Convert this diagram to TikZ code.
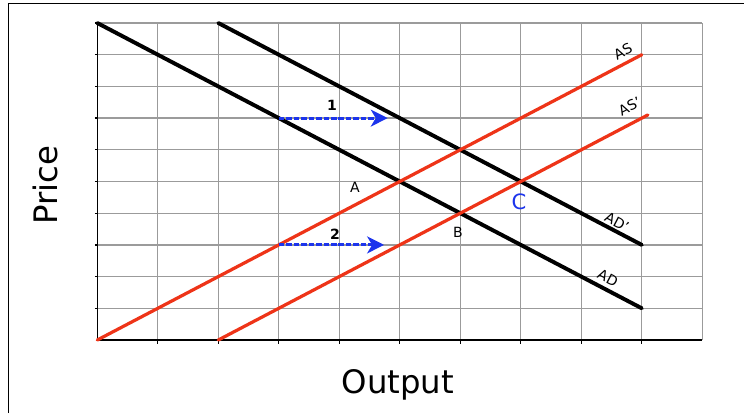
\documentclass[tikz,border=0pt]{standalone}
\usepackage{fontspec}
\setmainfont{DejaVu Sans}
\usetikzlibrary{positioning, arrows.meta}
\definecolor{asred}{RGB}{238,52,24}
\definecolor{shiftblue}{RGB}{28,52,236}
\definecolor{gridgray}{RGB}{155,155,155}

\begin{document}
\begin{tikzpicture}[
  x=1.5125cm,
  y=0.7925cm,
  demand/.style={
    draw,
    line width=2.8pt,
    line cap=round,
  },
  supply/.style={
    draw=asred,
    line width=2.3pt,
    line cap=round,
  },
  shiftarrow/.style={
    draw=shiftblue,
    line width=2.1pt,
    dash pattern=on 4pt off 1.3pt,
    -{Stealth[length=12pt, width=12pt, inset=3.5pt]},
  },
  curvelabel/.style={
    inner sep=0pt,
    font=\fontsize{10}{11}\selectfont,
  },
  pointlabel/.style={
    inner sep=0pt,
    font=\fontsize{10}{11}\selectfont,
  },
  axistitle/.style={
    inner sep=0pt,
    font=\fontsize{23}{26}\selectfont,
  },
]
\useasboundingbox (-2.4325cm,-1.825cm) rectangle (16.1675cm,8.5cm);

% frame
\draw[line width=0.7pt] (-2.2325cm,-1.825cm) -- (-2.2325cm,8.425cm) -- (16.1675cm,8.425cm);

% grid and axes
\draw[gridgray, line width=0.9pt, step=1] (0,0) grid (10,10);
\draw[line width=0.9pt] (0,10) -- (0,0) -- (10,0);
\foreach \r in {1,...,10}
  \draw[line width=0.9pt] (-0.04,\r) -- (0,\r);
\foreach \c in {1,...,9}
  \draw[line width=0.9pt] (\c,0) -- (\c,-0.13);

% curve ends
\coordinate (ad-top) at (0,10);
\coordinate (ad-end) at (9,1);
\coordinate (adp-top) at (2,10);
\coordinate (adp-end) at (9,3);
\coordinate (as-start) at (0,0);
\coordinate (as-end) at (9,9);
\coordinate (asp-start) at (2,0);
\coordinate (asp-end) at (9.1,7.1);

\draw[demand] (ad-top) -- (ad-end);
\draw[demand] (adp-top) -- (adp-end);
\draw[supply] (as-start) -- (as-end);
\draw[supply] (asp-start) -- (asp-end);

% shifts
\coordinate (shift1-from) at (3,7);
\coordinate (shift1-to) at (4.8,7);
\coordinate (shift2-from) at (3,3);
\coordinate (shift2-to) at (4.74,3);
\draw[shiftarrow] (shift1-from) -- (shift1-to);
\draw[shiftarrow] (shift2-from) -- (shift2-to);
\node[pointlabel, font=\bfseries\fontsize{10}{11}\selectfont] (one) at (3.88,7.4) {1};
\node[pointlabel, font=\bfseries\fontsize{10}{11}\selectfont] (two) at (3.93,3.32) {2};

% curve labels
\node[curvelabel, rotate=27.65] (as-label) at (8.69,9.1) {AS};
\node[curvelabel, rotate=27.65] (asp-label) at (8.80,7.37) {AS’};
\node[curvelabel, rotate=-27.65] (adp-label) at (8.59,3.72) {AD’};
\node[curvelabel, rotate=-27.65] (ad-label) at (8.44,1.96) {AD};

% equilibrium points
\node[pointlabel] (pt-a) at (4.26,4.83) {A};
\node[pointlabel] (pt-b) at (5.96,3.41) {B};
\node[pointlabel, text=shiftblue, font=\fontsize{15}{17}\selectfont] (pt-c) at (6.97,4.35) {C};

% axis titles
\node[axistitle, rotate=90] (price) at (-0.864,4.89) {Price};
\node[axistitle] (output) at (4.97,-1.42) {Output};
\end{tikzpicture}
\end{document}
